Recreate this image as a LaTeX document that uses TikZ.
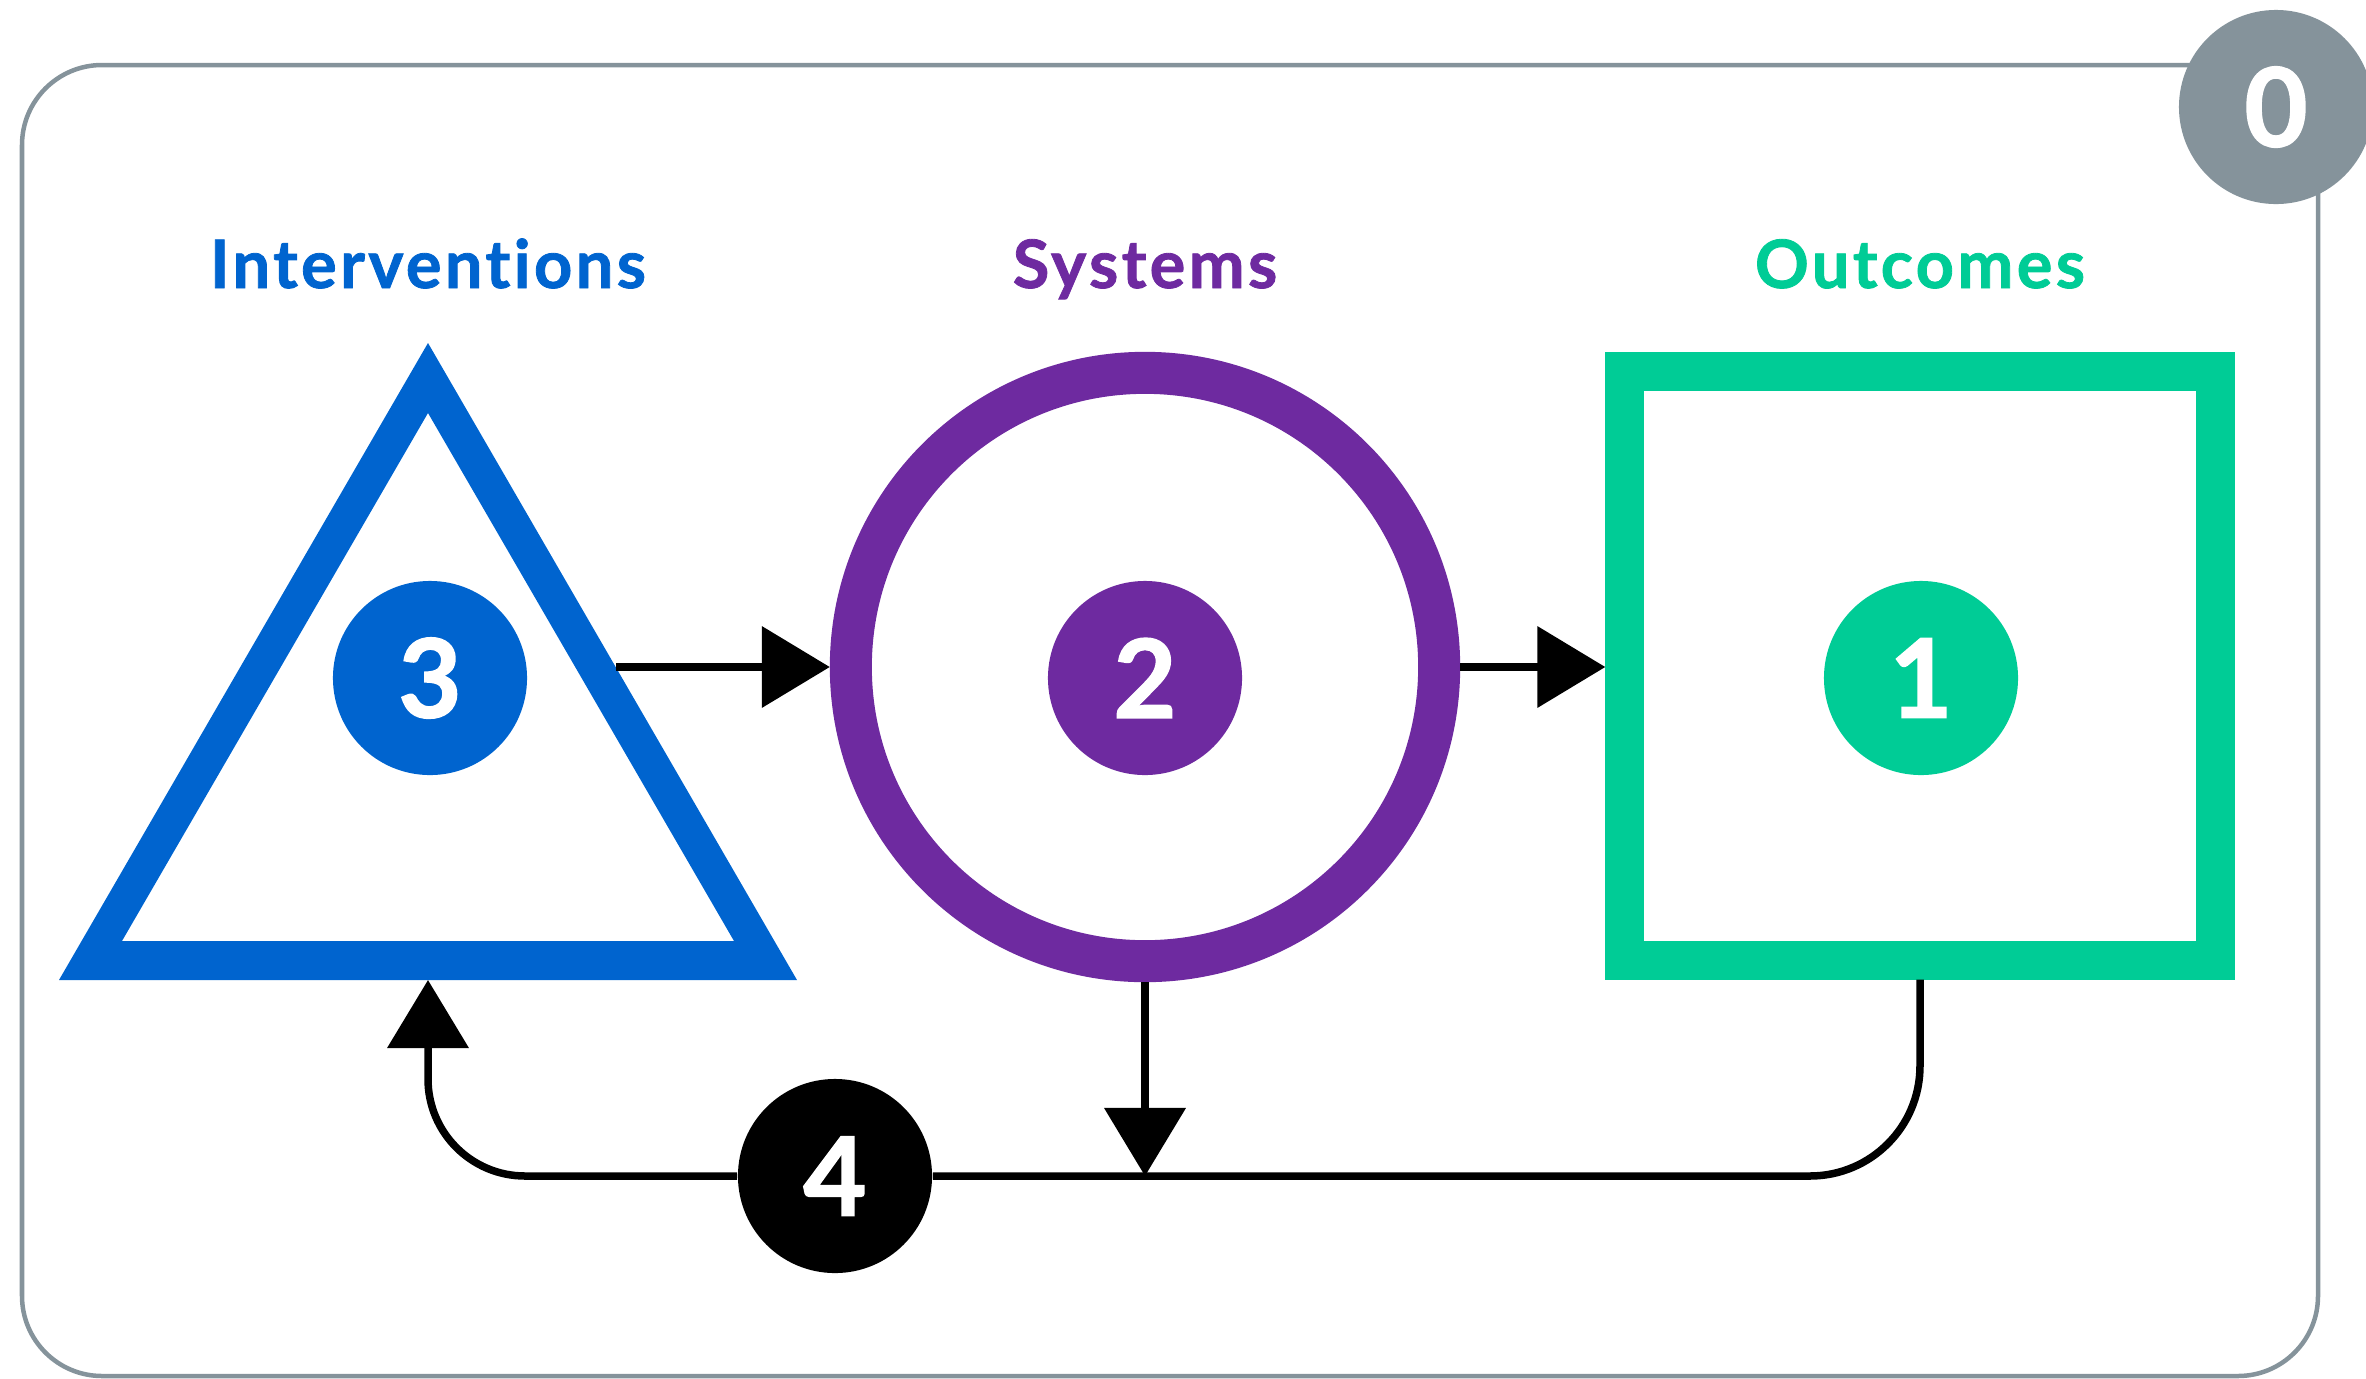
\documentclass[tikz,border=0pt]{standalone}
\usepackage{fontspec}
\setmainfont{Lato}
\newfontfamily\headfont{Lato}[Ligatures=NoCommon, LetterSpace=5, BoldFeatures={FakeBold=1.2}]
\newfontfamily\digitfont{Lato}[BoldFeatures={FakeBold=1.5}]
\usetikzlibrary{arrows.meta}

\definecolor{ivblue}{HTML}{0064CF}
\definecolor{sysviolet}{HTML}{6E2AA0}
\definecolor{outgreen}{HTML}{00CC96}
\definecolor{framegray}{HTML}{85939B}

\begin{document}
\begin{tikzpicture}[x=0.01cm, y=-0.01cm,
  title/.style={font=\headfont\fontsize{19}{19}\selectfont\bfseries, anchor=base},
  badge/.style={circle, minimum size=1.94cm, inner sep=0pt, text=white,
    font=\digitfont\fontsize{31}{31}\selectfont\bfseries},
  link/.style={line width=0.075cm},
  arr/.style={link, -{Triangle[length=0.68cm, width=0.80cm]}}]

\useasboundingbox (0,0) rectangle (2366,1378);

% Frame
\draw[framegray, line width=0.045cm, rounded corners=0.8cm] (22,65) rectangle (2318,1376);
\node[badge, fill=framegray] (b0) at (2276,107) {0};

% Titles
\node[title, text=ivblue] (ivtitle) at (428,288) {Interventions};
\node[title, text=sysviolet] (systitle) at (1145,288) {Systems};
\node[title, text=outgreen] (outtitle) at (1920,288) {Outcomes};

% Triangle
\fill[ivblue, even odd rule] (59,980) -- (797,980) -- (428,343) -- cycle
  (122,941) -- (734,941) -- (428,413) -- cycle;
\coordinate (tri east) at (616,667);
\coordinate (tri south) at (428,980);

% Circle
\node[circle, draw=sysviolet, line width=0.42cm, minimum size=5.88cm, inner sep=0pt] (sys) at (1145,667) {};

% Square
\node[draw=outgreen, line width=0.39cm, minimum width=5.90cm, minimum height=5.88cm, inner sep=0pt] (out) at (1920,666) {};

% Badges
\node[badge, fill=ivblue] (b3) at (430,678) {3};
\node[badge, fill=sysviolet] (b2) at (1145,678) {2};
\node[badge, fill=outgreen] (b1) at (1921,678) {1};
\node[badge, fill=black] (b4) at (835,1176) {4};

% Arrows
\draw[arr] (tri east) -- (sys.west);
\draw[arr] (sys.east) -- (sys.east -| out.west);
\draw[arr] (sys.south) -- (sys.south |- b4);
\draw[link, rounded corners=1.1cm] (out.south) |- (b4.east);
\draw[arr, rounded corners=0.97cm] (b4.west) -| (tri south);

\end{tikzpicture}
\end{document}
